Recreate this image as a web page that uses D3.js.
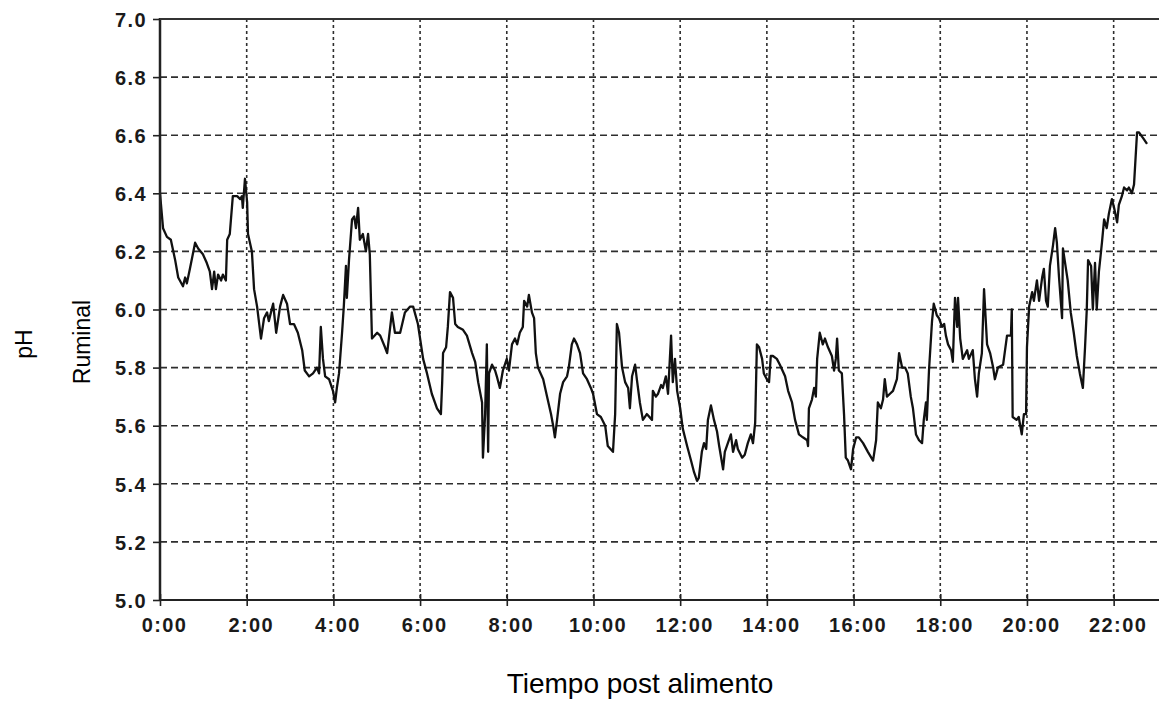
<!DOCTYPE html>
<html><head><meta charset="utf-8">
<script src="https://cdn.jsdelivr.net/npm/d3@7"></script>
<style>html,body{margin:0;padding:0;background:#fff;} svg{display:block;}</style>
</head><body>
<svg id="chart" width="1159" height="702"></svg>
<script>
// Time after feeding (hours) and ruminal pH
const timeHours = [
  0.00,0.07,0.16,0.25,0.35,0.42,0.53,0.58,0.62,0.69,
  0.81,0.88,0.99,1.08,1.15,1.20,1.25,1.29,1.34,1.41,
  1.45,1.52,1.55,1.61,1.68,1.78,1.85,1.89,1.91,1.96,
  2.01,2.03,2.12,2.17,2.24,2.33,2.40,2.47,2.51,2.61,
  2.68,2.77,2.84,2.93,3.00,3.09,3.18,3.28,3.34,3.44,
  3.53,3.62,3.67,3.71,3.76,3.81,3.90,3.99,4.04,4.08,
  4.13,4.20,4.24,4.29,4.31,4.36,4.43,4.48,4.52,4.57,
  4.61,4.68,4.75,4.80,4.84,4.89,5.01,5.08,5.19,5.24,
  5.35,5.42,5.54,5.65,5.77,5.84,5.95,6.07,6.16,6.27,
  6.39,6.48,6.51,6.53,6.60,6.64,6.69,6.76,6.81,6.87,
  6.99,7.08,7.20,7.27,7.34,7.43,7.45,7.50,7.54,7.57,
  7.59,7.66,7.73,7.77,7.84,7.91,8.00,8.05,8.12,8.19,
  8.24,8.30,8.37,8.40,8.47,8.51,8.58,8.63,8.67,8.72,
  8.84,8.93,9.02,9.07,9.11,9.16,9.23,9.30,9.39,9.43,
  9.50,9.55,9.62,9.69,9.76,9.85,9.94,9.99,10.08,10.17,
  10.27,10.33,10.45,10.50,10.54,10.59,10.66,10.73,10.80,10.84,
  10.89,10.96,11.00,11.07,11.14,11.23,11.35,11.37,11.44,11.49,
  11.56,11.60,11.67,11.72,11.79,11.83,11.88,11.93,12.00,12.06,
  12.16,12.25,12.32,12.39,12.43,12.50,12.55,12.60,12.64,12.71,
  12.78,12.85,12.90,12.99,13.03,13.10,13.17,13.22,13.29,13.33,
  13.43,13.49,13.56,13.63,13.68,13.73,13.77,13.82,13.89,13.93,
  14.00,14.05,14.09,14.14,14.23,14.30,14.42,14.49,14.58,14.65,
  14.74,14.83,14.93,14.95,14.97,15.04,15.09,15.13,15.16,15.22,
  15.29,15.34,15.41,15.50,15.55,15.59,15.62,15.66,15.73,15.78,
  15.82,15.87,15.94,15.99,16.06,16.12,16.22,16.33,16.45,16.52,
  16.56,16.63,16.68,16.72,16.77,16.84,16.91,17.00,17.05,17.12,
  17.19,17.25,17.32,17.37,17.44,17.51,17.58,17.62,17.67,17.69,
  17.74,17.81,17.85,17.92,17.97,18.04,18.09,18.13,18.18,18.25,
  18.29,18.34,18.39,18.41,18.46,18.52,18.62,18.66,18.75,18.80,
  18.85,18.89,18.96,19.01,19.08,19.15,19.22,19.26,19.33,19.45,
  19.54,19.63,19.65,19.67,19.76,19.81,19.88,19.93,19.98,20.00,
  20.05,20.12,20.16,20.23,20.28,20.35,20.39,20.44,20.48,20.53,
  20.60,20.65,20.69,20.74,20.81,20.83,20.90,20.94,21.01,21.08,
  21.15,21.22,21.29,21.34,21.38,21.41,21.48,21.52,21.57,21.61,
  21.66,21.73,21.78,21.84,21.89,21.96,22.01,22.08,22.12,22.19,
  22.24,22.31,22.35,22.42,22.47,22.54,22.58,22.68,22.77
];
const phValues = [
  6.40,6.28,6.25,6.24,6.17,6.11,6.08,6.11,6.09,6.14,
  6.23,6.21,6.19,6.16,6.13,6.07,6.13,6.07,6.12,6.10,
  6.12,6.10,6.24,6.26,6.39,6.39,6.38,6.39,6.35,6.45,
  6.37,6.26,6.20,6.07,6.01,5.90,5.97,5.99,5.96,6.02,
  5.92,6.01,6.05,6.02,5.95,5.95,5.92,5.86,5.79,5.77,
  5.78,5.80,5.78,5.94,5.83,5.77,5.76,5.72,5.68,5.73,
  5.78,5.92,6.01,6.15,6.04,6.17,6.31,6.32,6.28,6.35,
  6.24,6.26,6.20,6.26,6.19,5.90,5.92,5.91,5.87,5.85,
  5.99,5.92,5.92,5.99,6.01,6.01,5.95,5.83,5.78,5.71,
  5.66,5.64,5.75,5.85,5.87,5.94,6.06,6.04,5.95,5.94,
  5.93,5.91,5.85,5.82,5.75,5.68,5.49,5.64,5.88,5.51,
  5.78,5.81,5.79,5.77,5.73,5.79,5.83,5.79,5.88,5.90,
  5.88,5.92,5.94,6.03,6.01,6.05,5.99,5.97,5.85,5.80,
  5.76,5.70,5.64,5.60,5.56,5.62,5.71,5.75,5.77,5.80,
  5.88,5.90,5.88,5.85,5.78,5.76,5.73,5.71,5.64,5.63,
  5.60,5.53,5.51,5.64,5.95,5.92,5.80,5.75,5.73,5.66,
  5.77,5.81,5.76,5.68,5.62,5.64,5.62,5.72,5.70,5.71,
  5.74,5.73,5.77,5.71,5.91,5.75,5.83,5.72,5.66,5.59,
  5.53,5.48,5.44,5.41,5.42,5.51,5.54,5.52,5.62,5.67,
  5.62,5.58,5.53,5.45,5.51,5.54,5.57,5.51,5.55,5.52,
  5.49,5.50,5.54,5.57,5.54,5.61,5.88,5.87,5.83,5.78,
  5.76,5.75,5.84,5.84,5.83,5.81,5.77,5.72,5.68,5.62,
  5.57,5.56,5.55,5.53,5.66,5.69,5.73,5.70,5.83,5.92,
  5.88,5.90,5.87,5.84,5.79,5.83,5.90,5.79,5.78,5.64,
  5.49,5.48,5.45,5.52,5.56,5.56,5.54,5.51,5.48,5.55,
  5.68,5.66,5.69,5.76,5.70,5.71,5.72,5.76,5.85,5.80,
  5.80,5.78,5.70,5.66,5.57,5.55,5.54,5.62,5.68,5.62,
  5.79,5.96,6.02,5.98,5.97,5.94,5.95,5.91,5.88,5.86,
  5.82,6.04,5.94,6.04,5.90,5.83,5.86,5.83,5.86,5.76,
  5.70,5.78,5.85,6.07,5.88,5.85,5.80,5.76,5.80,5.81,
  5.91,5.91,6.00,5.63,5.62,5.63,5.57,5.64,5.64,5.87,
  6.01,6.06,6.03,6.10,6.03,6.11,6.14,6.03,6.01,6.15,
  6.22,6.28,6.23,6.11,5.97,6.21,6.14,6.10,5.99,5.92,
  5.84,5.78,5.73,5.87,6.00,6.17,6.15,6.00,6.16,6.00,
  6.13,6.23,6.31,6.28,6.33,6.38,6.35,6.30,6.36,6.39,
  6.42,6.41,6.42,6.40,6.43,6.61,6.61,6.59,6.57
];
const xTickValues = [0,2,4,6,8,10,12,14,16,18,20,22];
const xTickLabels = ["0:00","2:00","4:00","6:00","8:00","10:00","12:00","14:00","16:00","18:00","20:00","22:00"];
const yTickValues = [5.0,5.2,5.4,5.6,5.8,6.0,6.2,6.4,6.6,6.8,7.0];
const yTickLabels = ["5.0","5.2","5.4","5.6","5.8","6.0","6.2","6.4","6.6","6.8","7.0"];
const xTitle = "Tiempo post alimento";
const yTitleA = "pH";
const yTitleB = "Ruminal";

const W = 1159, H = 702;
const plotLeft = 160, plotTop = 19, plotBottom = 600;
const svg = d3.select("#chart");

const x = d3.scaleLinear().domain([0, 23]).range([plotLeft, 1157]);
const y = d3.scaleLinear().domain([5, 7]).range([plotBottom, plotTop]);

// grid
const grid = svg.append("g").attr("stroke", "#2e2e2e").attr("stroke-width", 1.6).attr("fill", "none");
grid.selectAll("line.h").data(yTickValues.filter(v => v > 5 && v < 7)).join("line")
  .attr("class", "h")
  .attr("x1", plotLeft).attr("x2", W)
  .attr("y1", d => y(d)).attr("y2", d => y(d))
  .attr("stroke-dasharray", "7,4");
grid.selectAll("line.v").data(xTickValues.filter(v => v > 0)).join("line")
  .attr("class", "v")
  .attr("x1", d => x(d)).attr("x2", d => x(d))
  .attr("y1", plotTop).attr("y2", plotBottom)
  .attr("stroke-dasharray", "3,3");

// data line
const pts = d3.zip(timeHours, phValues);
svg.append("path")
  .datum(pts)
  .attr("fill", "none")
  .attr("stroke", "#111")
  .attr("stroke-width", 2.3)
  .attr("stroke-linejoin", "round")
  .attr("d", d3.line().x(d => x(d[0])).y(d => y(d[1])));

// axes
const fontFam = "'Liberation Sans', Arial, Helvetica, sans-serif";
const yAxis = d3.axisLeft(y).tickValues(yTickValues)
  .tickFormat((d, i) => yTickLabels[i]).tickSize(7).tickPadding(6);
const gy = svg.append("g").attr("transform", `translate(${plotLeft},0)`).call(yAxis);
gy.select(".domain").remove();
gy.selectAll(".tick line").attr("stroke", "#222").attr("stroke-width", 1.6);
gy.selectAll(".tick text")
  .attr("font-family", fontFam).attr("font-weight", "bold").attr("font-size", 20)
  .attr("letter-spacing", 1.4).attr("fill", "#1a1a1a").attr("dy", "0.36em");

const xAxis = d3.axisBottom(x).tickValues(xTickValues)
  .tickFormat((d, i) => xTickLabels[i]).tickSize(6).tickPadding(12);
const gx = svg.append("g").attr("transform", `translate(0,${plotBottom})`).call(xAxis);
gx.select(".domain").remove();
gx.selectAll(".tick line").attr("y1", -6).attr("y2", 6).attr("stroke", "#222").attr("stroke-width", 1.6);
gx.selectAll(".tick text")
  .attr("font-family", fontFam).attr("font-weight", "bold").attr("font-size", 20)
  .attr("letter-spacing", 1.4).attr("fill", "#1a1a1a").attr("dx", 4).attr("dy", "0.72em");

// frame lines
svg.append("line").attr("x1", plotLeft).attr("x2", plotLeft).attr("y1", plotTop - 1).attr("y2", plotBottom + 1)
  .attr("stroke", "#222").attr("stroke-width", 2.5);
svg.append("line").attr("x1", plotLeft).attr("x2", W).attr("y1", plotBottom).attr("y2", plotBottom)
  .attr("stroke", "#222").attr("stroke-width", 2.2);
svg.append("line").attr("x1", plotLeft).attr("x2", W).attr("y1", plotTop).attr("y2", plotTop)
  .attr("stroke", "#333").attr("stroke-width", 2);

// titles
svg.append("text").attr("x", 640).attr("y", 693).attr("text-anchor", "middle")
  .attr("font-family", fontFam).attr("font-size", 28).attr("fill", "#000").text(xTitle);
svg.append("text").attr("transform", "translate(32,344) rotate(-90)").attr("text-anchor", "middle")
  .attr("font-family", fontFam).attr("font-size", 23).attr("fill", "#000").text(yTitleA);
svg.append("text").attr("transform", "translate(90,342) rotate(-90)").attr("text-anchor", "middle")
  .attr("font-family", fontFam).attr("font-size", 23).attr("fill", "#000").text(yTitleB);
</script>
</body></html>
